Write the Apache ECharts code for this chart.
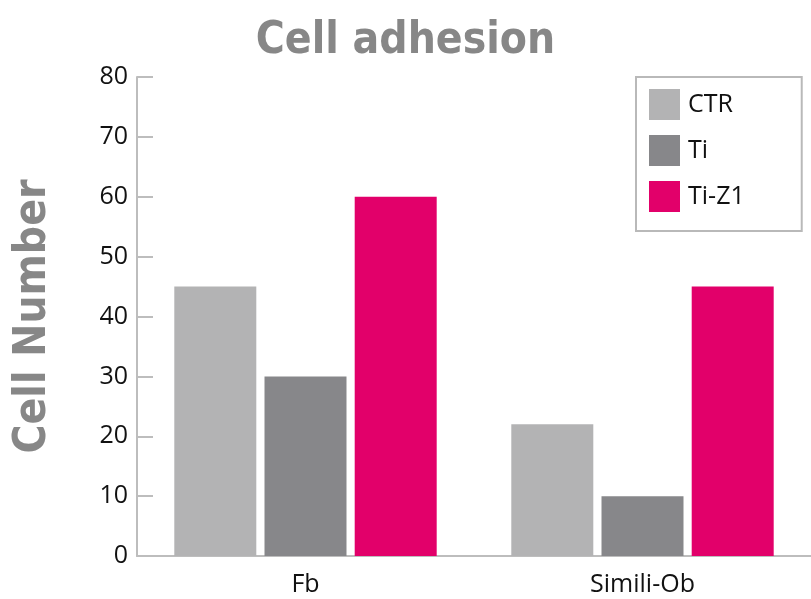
<!DOCTYPE html>
<html><head><meta charset="utf-8">
<script src="https://cdn.jsdelivr.net/npm/echarts@6/dist/echarts.min.js"></script>
<style>html,body{margin:0;padding:0;background:#fff}#c{width:811px;height:599px}</style>
</head><body><div id="c"></div>
<script>
const categories = ['Fb', 'Simili-Ob'];
const seriesNames = ['CTR', 'Ti', 'Ti-Z1'];
const ctrValues = [45, 22];
const tiValues = [30, 10];
const tiZ1Values = [60, 45];
const colors = ['#b3b3b4', '#87878a', '#e2006a'];

const chart = echarts.init(document.getElementById('c'), null, {renderer: 'canvas'});
const txtFont = 'Open Sans';
const boldFont = '"Liberation Sans Narrow", "DejaVu Sans Condensed", sans-serif';
chart.setOption({
  animation: false,
  backgroundColor: '#fff',
  title: {
    text: 'Cell adhesion', left: 'center', top: 20, itemGap: 0,
    textStyle: {fontFamily: boldFont, fontWeight: 'bold', fontSize: 44, color: '#878787'},
    padding: 0
  },
  legend: {
    orient: 'vertical', left: 636, top: 77,
    data: seriesNames,
    itemWidth: 31, itemHeight: 31, itemGap: 15,
    icon: 'rect',
    borderColor: '#b9b9b9', borderWidth: 2, borderRadius: 0,
    padding: [12, 57, 19, 13],
    textStyle: {fontFamily: txtFont, fontSize: 25, color: '#111', padding: [0, 0, 0, 3]}
  },
  grid: {left: 137, right: -1, top: 77, bottom: 43, containLabel: false},
  xAxis: {
    type: 'category', data: categories,
    axisLine: {lineStyle: {color: '#bdbdbd', width: 2}},
    axisTick: {show: false},
    axisLabel: {fontFamily: txtFont, fontSize: 25, color: '#111', margin: 16}
  },
  yAxis: {
    type: 'value', min: 0, max: 80, interval: 10,
    name: 'Cell Number', nameLocation: 'middle', nameGap: 81, nameRotate: 90,
    nameTextStyle: {fontFamily: boldFont, fontWeight: 'bold', fontSize: 44, color: '#878787'},
    axisLine: {show: true, lineStyle: {color: '#bdbdbd', width: 2}},
    axisTick: {show: true, inside: true, length: 16, lineStyle: {color: '#bdbdbd', width: 2}},
    splitLine: {show: false},
    axisLabel: {fontFamily: txtFont, fontSize: 25, color: '#111', margin: 9}
  },
  series: [
    {name: seriesNames[0], type: 'bar', data: ctrValues, barWidth: 82, barGap: '10%', itemStyle: {color: colors[0]}},
    {name: seriesNames[1], type: 'bar', data: tiValues, barWidth: 82, barGap: '10%', itemStyle: {color: colors[1]}},
    {name: seriesNames[2], type: 'bar', data: tiZ1Values, barWidth: 82, barGap: '10%', itemStyle: {color: colors[2]}}
  ]
});
</script></body></html>
